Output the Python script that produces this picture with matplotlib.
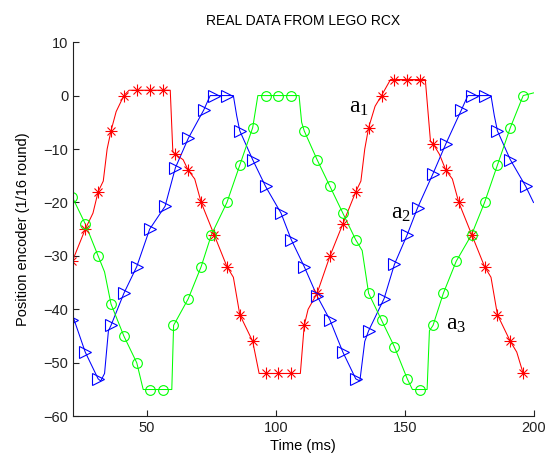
import matplotlib
matplotlib.use('Agg')
import matplotlib.pyplot as plt

# marker samples (ms, position)
red_t = [21, 26, 31, 36, 41, 46, 51, 56, 61, 66, 71, 76, 81, 86, 91, 96, 101, 106, 111, 116,
         121, 126, 131, 136, 141, 146, 151, 156, 161, 166, 171, 176, 181, 186, 191, 196]
red_y = [-31, -25, -18, -6.6, 0, 1, 1, 1, -11, -14, -20, -26, -32, -41, -46, -52, -52, -52, -43, -37,
         -30, -24, -18, -6, 0, 3, 3, 3, -9, -14, -20, -26, -32, -41, -46, -52]

blue_t = [21, 26, 31, 36, 41, 46, 51, 57, 61, 66, 72, 76, 81, 86, 91, 96, 102, 106, 111, 116,
          121, 126, 131, 136, 142, 146, 151, 155, 161, 166, 172, 176, 181, 186, 191, 197]
blue_y = [-42, -48, -53, -43, -37, -32, -25, -20.7, -13.5, -8, -2.7, 0, 0, -6.6, -12, -17, -22, -27, -32, -37.5,
          -42, -48, -53, -44, -38, -31.6, -26, -21, -14.6, -9, -2.7, 0, 0, -6.6, -12, -17]

green_t = [21, 26, 31, 36, 41, 46, 51, 56, 60, 66, 71, 75, 81, 86, 91, 96, 101, 106, 111, 116,
           121, 126, 131, 136, 141, 146, 151, 156, 161, 165, 170, 176, 181, 186, 191, 196]
green_y = [-19, -24, -30, -39, -45, -50, -55, -55, -43, -38, -32, -26, -20, -13, -6, 0, 0, 0, -6.6, -12,
           -17, -22, -27, -37, -42, -47, -53, -55, -43, -37, -31, -26, -20, -13, -6, 0]

# line traces (markers plus plateau / step corners)
red_line_t = [21, 26, 29, 31, 33, 34.5, 36, 38, 41, 43, 59, 60, 61, 64, 66, 68.5, 71, 76, 81, 83.5, 86,
              91, 93.5, 109.5, 111, 112.5, 116, 121, 126, 131, 133, 134.5, 136, 138.5, 141, 144.5, 158, 160,
              161, 163.5, 166, 168.5, 171, 176, 181, 183.5, 186, 191, 193.5, 196, 198]
red_line_y = [-31, -25, -22, -18, -16, -10, -6.6, -3, 0, 1, 1, -10.5, -11, -12, -14, -15.6, -20, -26, -32, -34, -41,
              -46, -52, -52, -43, -40, -37, -30, -24, -18, -16, -10, -6, -2, 0, 3, 3, -8.5,
              -9, -11, -14, -15.6, -20, -26, -32, -34, -41, -46, -48, -52, -52]

blue_line_t = [21, 26, 31, 32, 33.5, 35, 36, 41, 46, 51, 57, 61, 66, 72, 74.5, 83.5, 84.8, 86, 91, 96, 102,
               106, 111, 116, 121, 126, 131, 132.6, 134.5, 136, 142, 146, 151, 155, 161, 166, 172, 174.5,
               183.5, 184.8, 186, 191, 197, 200]
blue_line_y = [-41, -48, -53, -53.4, -52, -44, -43, -37, -32, -25, -20.7, -13.5, -8, -2.7, 0, 0, -3.8, -6.6, -12, -17, -22,
               -27, -32, -37.5, -42, -48, -53, -53.4, -46, -44, -38, -31.6, -26, -21, -14.6, -9, -2.7, 0,
               0, -3.8, -6.6, -12, -17, -20]

green_line_t = [21, 26, 31, 33.5, 36, 41, 46, 48.5, 59.6, 60.3, 66, 71, 75, 81, 86, 91, 93, 109, 110, 111,
                116, 121, 126, 131, 133.5, 136, 141, 146, 151, 153, 158.7, 159.6, 161, 165, 170, 176, 181, 186,
                191, 196, 200]
green_line_y = [-19, -24, -30, -33, -39, -45, -50, -55, -55, -43, -38, -32, -26, -20, -13, -6, 0, 0, -5, -6.6,
                -12, -17, -22, -27, -29, -37, -42, -47, -53, -55, -55, -44, -43, -37, -31, -26, -20, -13,
                -6, 0, 0.5]

RED, BLUE, GREEN = '#ff0000', '#0000ff', '#00ff00'

plt.rcParams['font.family'] = ['Liberation Sans', 'DejaVu Sans']
fig = plt.figure(figsize=(5.54, 4.63), dpi=100)
ax = fig.add_axes([0.132, 0.101, 0.831, 0.808])

lw = 0.75
ax.plot(red_line_t, red_line_y, color=RED, lw=lw)
ax.plot(blue_line_t, blue_line_y, color=BLUE, lw=lw)
ax.plot(green_line_t, green_line_y, color=GREEN, lw=lw)

# matlab-style asterisk = plus + cross
ax.plot(red_t, red_y, ls='none', marker='+', ms=8, mew=0.8, color=RED)
ax.plot(red_t, red_y, ls='none', marker='x', ms=5.5, mew=0.8, color=RED)
ax.plot(blue_t, blue_y, ls='none', marker='>', ms=8, mew=0.8, mfc='none', mec=BLUE)
ax.plot(green_t, green_y, ls='none', marker='o', ms=7, mew=0.8, mfc='none', mec=GREEN)

# curve labels
lab = dict(fontsize=17, family=['Liberation Serif', 'DejaVu Serif'], va='baseline', ha='left')
ax.text(128.5, -3.2, r'$\mathregular{a_1}$', **lab)
ax.text(144.5, -23.1, r'$\mathregular{a_2}$', **lab)
ax.text(166, -43.9, r'$\mathregular{a_3}$', **lab)

ax.set_xlim(21.3, 200)
ax.set_ylim(-60, 10)
ax.set_xticks([50, 100, 150, 200])
ax.set_yticks(range(-60, 11, 10))
ax.tick_params(direction='in', length=4, width=0.8, labelsize=10.5, colors='#222222')
for s in ['top', 'right']:
    ax.spines[s].set_visible(False)
for s in ['left', 'bottom']:
    ax.spines[s].set_color('#222222')
    ax.spines[s].set_linewidth(0.8)

ax.set_title('REAL DATA FROM LEGO RCX', fontsize=10, pad=12)
ax.set_xlabel('Time (ms)', fontsize=10.5, labelpad=3)
ax.set_ylabel('Position encoder (1/16 round)', fontsize=10.5, labelpad=10)

fig.savefig('out.png', dpi=100)
